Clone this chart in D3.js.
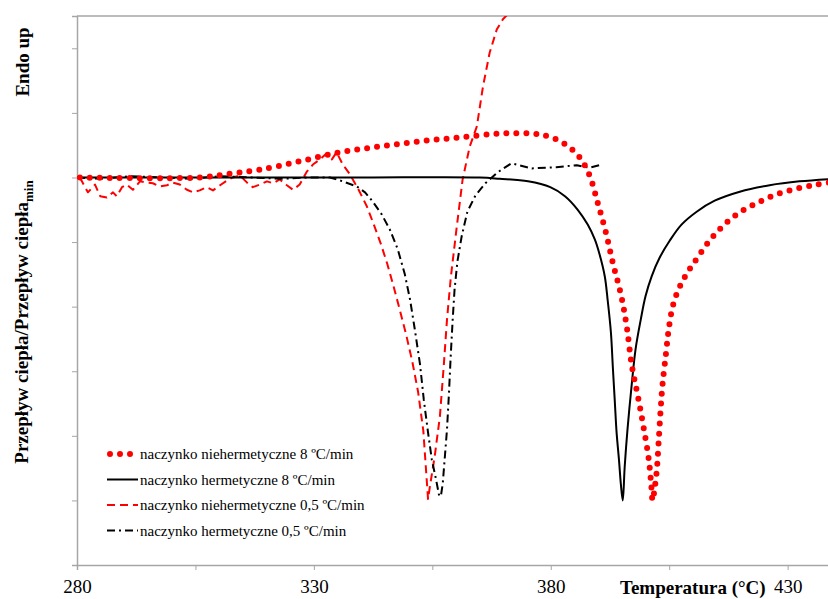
<!DOCTYPE html>
<html>
<head>
<meta charset="utf-8">
<script src="https://cdn.jsdelivr.net/npm/d3@7"></script>
<style>
  body { margin: 0; background: #fff; }
  svg { display: block; }
</style>
</head>
<body>
<div id="chart_div"></div>
<script>
// tick values of the temperature axis
const x_ticks = [280, 305, 330, 355, 380, 405, 430];
const x_labels = [280, 330, 380, 430];
const y_ticks = [-6, -5, -4, -3, -2, -1, 0, 1, 2];

// red dotted - naczynko niehermetyczne 8 C/min
const nh8_temp = [280.6, 306.0, 312.3, 318.6, 327.0, 335.5, 343.9, 352.4, 360.8, 369.2, 375.6, 378.7, 382.5, 385.9, 388.2, 389.9, 391.6, 393.1, 394.8, 396.0, 397.1, 398.4, 399.6, 400.7, 401.2, 401.5, 401.9, 402.4, 402.8, 403.2, 403.6, 404.3, 404.9, 405.7, 406.8, 408.0, 409.3, 411.0, 413.5, 416.5, 419.9, 423.7, 427.7, 432.1, 436.3, 439.9];
const nh8_flow = [0, 0, 0.06, 0.12, 0.25, 0.39, 0.48, 0.56, 0.62, 0.68, 0.68, 0.65, 0.54, 0.33, 0.03, -0.39, -0.84, -1.32, -1.81, -2.29, -2.91, -3.39, -3.87, -4.37, -4.75, -5.0, -4.83, -4.52, -4.06, -3.59, -3.20, -2.74, -2.35, -2.01, -1.76, -1.58, -1.42, -1.24, -0.98, -0.74, -0.54, -0.39, -0.26, -0.17, -0.11, -0.06];

// black solid - naczynko hermetyczne 8 C/min
const h8_temp = [280, 300, 320, 340, 365.0, 369.2, 375.2, 379.9, 383.0, 385.7, 387.8, 389.3, 390.3, 391.4, 392.0, 392.7, 393.1, 393.5, 393.9, 394.4, 394.8, 395.2, 395.6, 396.2, 397.1, 397.9, 399.0, 400.0, 401.3, 403.0, 405.1, 407.6, 410.8, 414.6, 419.9, 426.2, 432.5, 439.9];
const h8_flow = [0, 0, 0, 0, 0, -0.02, -0.06, -0.15, -0.29, -0.50, -0.73, -0.96, -1.19, -1.53, -1.89, -2.40, -2.93, -3.44, -3.95, -4.37, -4.75, -5.0, -4.49, -3.90, -3.20, -2.66, -2.20, -1.84, -1.53, -1.24, -0.98, -0.73, -0.53, -0.36, -0.22, -0.12, -0.06, -0.02];

// red dashed - naczynko niehermetyczne 0,5 C/min
const nh05_temp = [280.6, 282.3, 283.8, 284.9, 286.3, 287.6, 288.4, 289.5, 290.5, 291.8, 293.3, 294.8, 296.0, 297.5, 299.0, 300.3, 301.7, 303.2, 304.5, 305.9, 307.4, 308.7, 310.2, 311.6, 312.9, 314.4, 315.9, 317.1, 318.6, 320.1, 321.4, 322.8, 324.3, 325.6, 327.0, 328.5, 329.8, 331.3, 332.5, 333.8, 334.8, 336.1, 337.6, 339.3, 341.2, 342.6, 344.1, 345.5, 346.8, 348.1, 349.5, 350.8, 352.0, 353.1, 354.1, 354.5, 355.5, 356.6, 357.4, 358.1, 358.9, 360.1, 361.4, 362.9, 364.4, 365.7, 367.1, 368.6, 369.9, 370.7, 372.4];
const nh05_flow = [0, -0.23, -0.11, -0.29, -0.31, -0.23, -0.29, -0.15, -0.11, -0.19, -0.06, -0.08, -0.09, -0.14, -0.12, -0.08, -0.11, -0.19, -0.23, -0.20, -0.15, -0.20, -0.12, -0.05, 0, 0.03, -0.08, -0.15, -0.11, -0.06, -0.09, -0.03, -0.12, -0.19, -0.11, 0.09, 0.20, 0.28, 0.36, 0.28, 0.39, 0.20, 0.05, -0.17, -0.45, -0.72, -1.02, -1.34, -1.68, -2.04, -2.44, -2.86, -3.32, -3.92, -4.98, -4.78, -4.32, -3.70, -2.93, -2.20, -1.55, -0.80, -0.03, 0.48, 0.79, 1.41, 1.93, 2.29, 2.45, 2.51, 2.70];

// black dash-dot - naczynko hermetyczne 0,5 C/min
const h05_temp = [280, 284.9, 291.2, 297.5, 303.8, 310.2, 316.5, 322.8, 329.2, 333.4, 336.1, 339.1, 340.8, 342.4, 344.3, 346.0, 347.7, 349.2, 350.3, 351.3, 352.4, 353.2, 354.1, 354.9, 355.8, 356.4, 356.8, 357.2, 357.6, 358.1, 358.5, 358.9, 359.3, 359.7, 360.3, 361.2, 362.4, 364.1, 366.2, 368.8, 371.7, 376.0, 381.2, 385.5, 388.2, 390.3];
const h05_flow = [0, -0.02, 0.02, 0, -0.02, 0.02, 0, -0.02, 0, 0, -0.06, -0.14, -0.23, -0.37, -0.57, -0.80, -1.11, -1.50, -1.89, -2.35, -2.89, -3.44, -3.95, -4.37, -4.68, -4.91, -4.94, -4.74, -4.37, -3.90, -3.36, -2.74, -2.20, -1.73, -1.30, -0.91, -0.53, -0.28, -0.09, 0.08, 0.22, 0.14, 0.16, 0.19, 0.15, 0.19];

const series_names = [
  "naczynko niehermetyczne 8 \u00baC/min",
  "naczynko hermetyczne 8 \u00baC/min",
  "naczynko niehermetyczne 0,5 \u00baC/min",
  "naczynko hermetyczne 0,5 \u00baC/min"
];

const width = 828, height = 599;
const margin = {top: 16, right: -7, bottom: 34, left: 77};
const serif = "'Liberation Serif', 'Times New Roman', serif";

const svg = d3.select("#chart_div")
  .append("svg")
    .attr("width", width)
    .attr("height", height);

const x = d3.scaleLinear()
  .domain([280, 440])
  .range([margin.left, width - margin.right]);

const y = d3.scaleLinear()
  .domain([-6, 2.5])
  .range([height - margin.bottom, margin.top]);

svg.append("clipPath").attr("id", "plot_clip")
  .append("rect")
    .attr("x", margin.left)
    .attr("y", margin.top)
    .attr("width", width - margin.left)
    .attr("height", height - margin.bottom - margin.top);

const axis_color = "#a6a6a6";

// top border
svg.append("line")
  .attr("x1", margin.left).attr("x2", width)
  .attr("y1", margin.top).attr("y2", margin.top)
  .attr("stroke", axis_color).attr("stroke-width", 1.5);

// Y axis, ticks only
const y_axis = svg.append("g")
  .attr("transform", `translate(${margin.left},0)`)
  .call(d3.axisLeft(y).tickValues(y_ticks).tickSize(5).tickFormat(""));
y_axis.select(".domain").attr("stroke", axis_color).attr("stroke-width", 1.5);
y_axis.selectAll(".tick line").attr("stroke", axis_color);

// X axis
const x_axis = svg.append("g")
  .attr("transform", `translate(0,${y(-6)})`)
  .attr("font-family", serif)
  .call(d3.axisBottom(x).tickValues(x_ticks).tickSize(5).tickPadding(10)
    .tickFormat(d => x_labels.includes(d) ? d : ""));
x_axis.select(".domain").attr("stroke", axis_color).attr("stroke-width", 1.5);
x_axis.selectAll(".tick line").attr("stroke", axis_color);
x_axis.selectAll(".tick text")
  .style("font-family", serif)
  .style("font-size", "19px")
  .attr("fill", "#000");

// axis titles
svg.append("text")
  .attr("x", 620).attr("y", 594)
  .style("font-family", serif)
  .style("font-size", "19px").style("font-weight", "bold")
  .text("Temperatura (\u00b0C)");

const ylab = svg.append("text")
  .attr("transform", "translate(28,322) rotate(-90)")
  .attr("text-anchor", "middle")
  .style("font-family", serif)
  .style("font-size", "19px").style("font-weight", "bold");
ylab.append("tspan").text("Przep\u0142yw ciep\u0142a/Przep\u0142yw ciep\u0142a");
ylab.append("tspan").attr("dy", 5).style("font-size", "13px").text("min");

svg.append("text")
  .attr("transform", "translate(29,62) rotate(-90)")
  .attr("text-anchor", "middle")
  .style("font-family", serif)
  .style("font-size", "19px").style("font-weight", "bold")
  .text("Endo up");

// line styles for each series
const styles = [
  {color: "#ff0000", width: 6, dash: "0,10", cap: "round"},
  {color: "#000000", width: 2, dash: null, cap: "butt"},
  {color: "#ff0000", width: 2, dash: "8,5", cap: "butt"},
  {color: "#000000", width: 2, dash: "8,4,2,4", cap: "butt"}
];

const series = [
  {temp: nh8_temp, flow: nh8_flow, curve: d3.curveCatmullRom},
  {temp: h8_temp, flow: h8_flow, curve: d3.curveCatmullRom},
  {temp: nh05_temp, flow: nh05_flow, curve: d3.curveLinear},
  {temp: h05_temp, flow: h05_flow, curve: d3.curveLinear}
];

const plot = svg.append("g").attr("clip-path", "url(#plot_clip)");

// draw in order: dashed red, dash-dot black, solid, dotted on top
[2, 3, 1, 0].forEach(function(i) {
  const s = series[i], st = styles[i];
  const pts = s.temp.map((t, k) => [t, s.flow[k]]);
  const line = d3.line()
    .x(d => x(d[0]))
    .y(d => y(d[1]))
    .curve(s.curve);
  plot.append("path")
    .datum(pts)
    .attr("d", line)
    .attr("fill", "none")
    .attr("stroke", st.color)
    .attr("stroke-width", st.width)
    .attr("stroke-dasharray", st.dash)
    .attr("stroke-linecap", st.cap)
    .attr("stroke-linejoin", "round");
});

// legend
const legend = svg.append("g").attr("transform", "translate(107,454)");
series_names.forEach(function(name, i) {
  const st = styles[i];
  const row = legend.append("g").attr("transform", `translate(0,${i * 25.5})`);
  row.append("line")
    .attr("x1", i == 0 ? 3 : 0).attr("x2", 31)
    .attr("y1", 0).attr("y2", 0)
    .attr("stroke", st.color)
    .attr("stroke-width", st.width)
    .attr("stroke-dasharray", st.dash)
    .attr("stroke-linecap", st.cap);
  row.append("text")
    .attr("x", 33).attr("y", 5)
    .style("font-family", serif)
    .style("font-size", "15px")
    .text(name);
});
</script>
</body>
</html>
